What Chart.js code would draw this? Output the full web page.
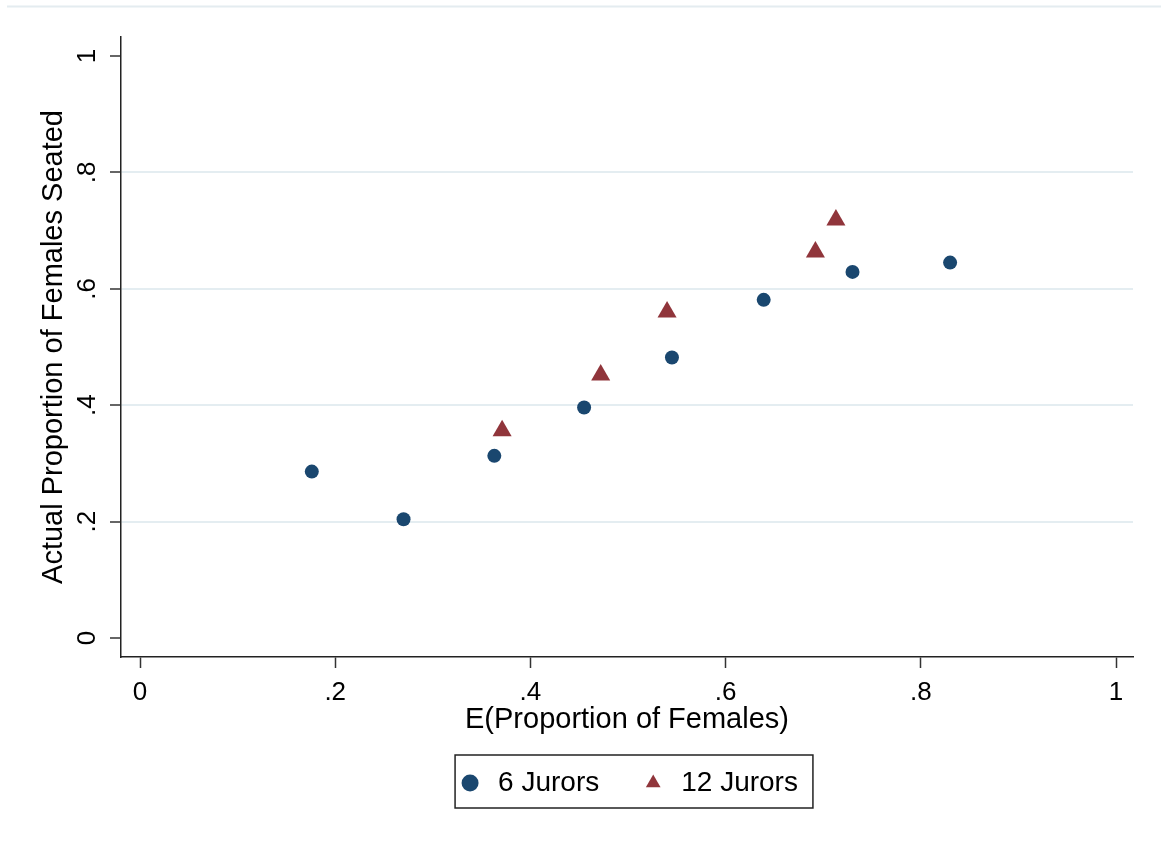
<!DOCTYPE html>
<html>
<head>
<meta charset="utf-8">
<script src="https://cdn.jsdelivr.net/npm/chart.js@4.4.0/dist/chart.umd.min.js"></script>
<style>
  html, body { margin: 0; padding: 0; background: #fff; }
  #wrap { width: 1161px; height: 843px; }
</style>
</head>
<body>
<div id="wrap"><canvas id="myChart" width="1161" height="843"></canvas></div>
<script>
// 6 juror panels
var x6 = [0.176, 0.270, 0.363, 0.455, 0.545, 0.639, 0.730, 0.830];
var y6 = [0.286, 0.204, 0.313, 0.396, 0.482, 0.581, 0.629, 0.645];
// 12 juror panels
var x12 = [0.371, 0.472, 0.540, 0.692, 0.713];
var y12 = [0.356, 0.452, 0.560, 0.663, 0.718];

var tickValues = [0, 0.2, 0.4, 0.6, 0.8, 1];
var tickLabels = ["0", ".2", ".4", ".6", ".8", "1"];
var seriesNames = ["6 Jurors", "12 Jurors"];

var FONT = "'Liberation Sans', Arial, sans-serif";
Chart.defaults.font.family = FONT;
Chart.defaults.color = "#000";

function toPoints(xs, ys) {
  return xs.map(function (x, i) { return { x: x, y: ys[i] }; });
}

function setTicks(scale) {
  scale.ticks = tickValues.map(function (v) { return { value: v }; });
}

function tickText(value, index) {
  return tickLabels[index];
}

// thin frame line at the top and a box around the legend
var frame = {
  id: "frame",
  beforeDraw: function (chart) {
    var ctx = chart.ctx;
    ctx.save();
    ctx.strokeStyle = "#e4ecf0";
    ctx.lineWidth = 2;
    ctx.beginPath();
    ctx.moveTo(7, 6.5);
    ctx.lineTo(1161, 6.5);
    ctx.stroke();
    ctx.restore();
  },
  afterDraw: function (chart) {
    var hb = chart.legend.legendHitBoxes;
    if (!hb || !hb.length) return;
    var first = hb[0], last = hb[hb.length - 1];
    var cy = first.top + first.height / 2;
    var ctx = chart.ctx;
    ctx.save();
    ctx.strokeStyle = "#222";
    ctx.lineWidth = 1.5;
    ctx.strokeRect(first.left - 1, cy - 28, last.left + last.width + 16 - first.left, 53);
    ctx.restore();
  }
};

var ctx = document.getElementById("myChart");
var chart = new Chart(ctx, {
  type: "scatter",
  data: {
    datasets: [
      {
        label: seriesNames[0],
        data: toPoints(x6, y6),
        pointStyle: "circle",
        pointRadius: 7,
        pointHoverRadius: 7,
        backgroundColor: "#1a476f",
        borderColor: "#1a476f",
        borderWidth: 0
      },
      {
        label: seriesNames[1],
        data: toPoints(x12, y12),
        pointStyle: "triangle",
        pointRadius: 11,
        pointHoverRadius: 11,
        backgroundColor: "#90353b",
        borderColor: "#90353b",
        borderWidth: 0
      }
    ]
  },
  options: {
    responsive: false,
    animation: false,
    devicePixelRatio: 1,
    layout: { padding: { top: 37, right: 28, left: 20, bottom: 36 } },
    plugins: {
      tooltip: { enabled: false },
      legend: {
        position: "bottom",
        fullSize: false,
        labels: {
          usePointStyle: true,
          boxWidth: 28,
          boxHeight: 12,
          padding: 40,
          color: "#000",
          font: { size: 28, family: FONT }
        }
      }
    },
    scales: {
      x: {
        type: "linear",
        min: -0.0195,
        max: 1.0174,
        afterBuildTicks: setTicks,
        ticks: {
          callback: tickText,
          autoSkip: false,
          maxRotation: 0,
          padding: 12,
          color: "#000",
          font: { size: 26, lineHeight: 1 }
        },
        grid: {
          drawOnChartArea: false,
          tickLength: 11,
          tickColor: "#333",
          tickWidth: 1.5
        },
        border: { display: true, color: "#222", width: 1.5 },
        title: {
          display: true,
          text: "E(Proportion of Females)",
          color: "#000",
          font: { size: 29, lineHeight: 1 },
          padding: { top: -12.5, bottom: -5.5 }
        }
      },
      y: {
        type: "linear",
        min: -0.0325,
        max: 1.0325,
        afterBuildTicks: setTicks,
        afterFit: function (scale) { scale.width = 101; },
        ticks: {
          callback: tickText,
          autoSkip: false,
          minRotation: 90,
          maxRotation: 90,
          crossAlign: "center",
          padding: 11,
          color: "#000",
          font: { size: 26, lineHeight: 1 }
        },
        grid: {
          color: function (c) {
            if (c.tick && (c.tick.value === 0 || c.tick.value === 1)) return "rgba(0,0,0,0)";
            return "#e4edf1";
          },
          lineWidth: 2,
          tickLength: 11,
          tickColor: "#333",
          tickWidth: 1.5
        },
        border: { display: true, color: "#222", width: 1.5 },
        title: {
          display: true,
          text: "Actual Proportion of Females Seated",
          color: "#000",
          font: { size: 29, lineHeight: 1 },
          padding: { top: 19.5, bottom: 0 }
        }
      }
    }
  },
  plugins: [frame]
});
</script>
</body>
</html>
